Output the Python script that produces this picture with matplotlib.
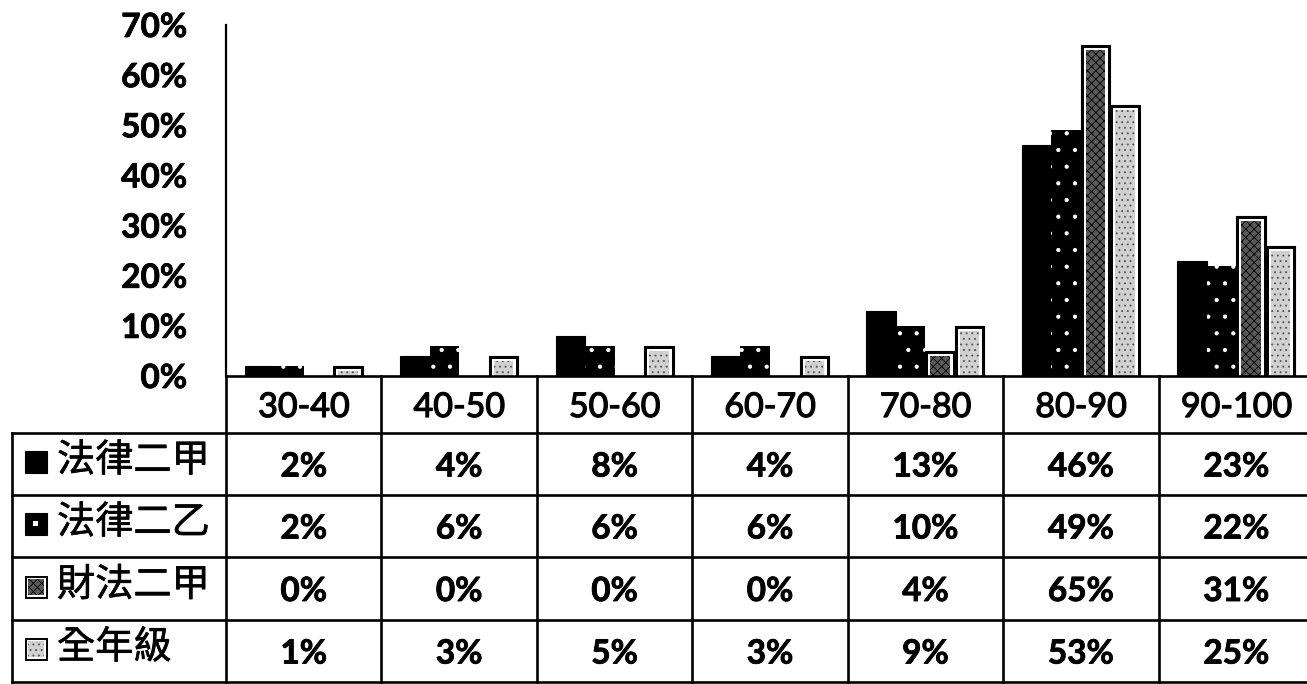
import matplotlib
matplotlib.use("Agg")
import matplotlib.pyplot as plt
import matplotlib.patheffects as pe
from matplotlib.patches import Rectangle
import numpy as np

# Datos del gráfico (porcentajes)
categories = ['30-40', '40-50', '50-60', '60-70', '70-80', '80-90', '90-100']
series_names = ['法律二甲', '法律二乙', '財法二甲', '全年級']
law_2a = [2, 4, 8, 4, 13, 46, 23]
law_2b = [2, 6, 6, 6, 10, 49, 22]
fin_2a = [0, 0, 0, 0, 4, 65, 31]
whole_grade = [1, 3, 5, 3, 9, 53, 25]
y_ticks = [0, 10, 20, 30, 40, 50, 60, 70]

series_values = [law_2a, law_2b, fin_2a, whole_grade]

# Layout in pixels
W, H = 1307, 684
AX_L, AX_R, AX_T, AX_B = 226, 1314, 25, 376
ROW_EDGES = [376, 433, 495, 557, 620, 682]
TABLE_L = 12
LINE_W = 1.9

DIGIT_FONT = 'Lato'
CJK_FONT = ['Noto Sans CJK TC', 'DejaVu Sans']

boxed = [pe.Stroke(linewidth=8, foreground='black'),
         pe.Stroke(linewidth=3.6, foreground='white'),
         pe.Normal()]
key_boxed = [pe.Stroke(linewidth=5, foreground='black'),
             pe.Stroke(linewidth=2.2, foreground='white'),
             pe.Normal()]


def thick(w):
    return [pe.withStroke(linewidth=w, foreground='black')]


styles = [
    dict(facecolor='black', edgecolor='black', linewidth=0.8),
    dict(facecolor='black', edgecolor='white', linewidth=0, hatch='.'),
    dict(facecolor='#5a5a5a', edgecolor='black', linewidth=0, hatch='xxxx'),
    dict(facecolor='#d0d0d0', edgecolor='#505050', linewidth=0, hatch='...'),
]
boxed_series = [False, False, True, True]


def main():
    plt.rcParams['hatch.linewidth'] = 0.6
    fig = plt.figure(figsize=(W / 100, H / 100), dpi=100)

    ax = fig.add_axes([AX_L / W, 1 - AX_B / H, (AX_R - AX_L) / W, (AX_B - AX_T) / H])
    x = np.arange(len(categories))
    slot = 0.19
    offsets = (np.arange(len(series_values)) - 1.5) * slot
    for vals, off, st, bx in zip(series_values, offsets, styles, boxed_series):
        heights = np.where(np.array(vals) > 0, vals, np.nan)
        if bx:
            ax.bar(x + off, heights, width=0.125, zorder=3, path_effects=boxed, **st)
        else:
            ax.bar(x + off, heights, width=slot, zorder=3, **st)

    ax.set_xlim(-0.5, len(categories) - 0.5)
    ax.set_ylim(0, 70)
    ax.set_yticks(y_ticks)
    ax.set_yticklabels([f'{v}%' for v in y_ticks], fontfamily=DIGIT_FONT,
                       fontweight='bold', fontsize=24, path_effects=thick(0.6))
    ax.tick_params(axis='y', length=0, pad=28)
    ax.set_xticks([])
    for side in ['top', 'right', 'bottom']:
        ax.spines[side].set_visible(False)
    ax.spines['left'].set_linewidth(1.6)
    ax.patch.set_visible(False)

    # Data table drawn on an overlay in pixel units
    tab = fig.add_axes([0, 0, 1, 1], zorder=5)
    tab.set_xlim(0, W)
    tab.set_ylim(H, 0)
    tab.axis('off')

    col_w = (AX_R - AX_L) / len(categories)
    col_edges = [AX_L + i * col_w for i in range(len(categories) + 1)]

    # horizontal lines
    tab.plot([AX_L, AX_R], [ROW_EDGES[0]] * 2, color='black', lw=LINE_W)
    for y in ROW_EDGES[1:]:
        tab.plot([TABLE_L, AX_R], [y, y], color='black', lw=LINE_W)
    # vertical lines
    for xe in col_edges:
        tab.plot([xe, xe], [ROW_EDGES[0], ROW_EDGES[-1]], color='black', lw=LINE_W)
    tab.plot([TABLE_L, TABLE_L], [ROW_EDGES[1], ROW_EDGES[-1]], color='black', lw=LINE_W)

    # header
    hy = (ROW_EDGES[0] + ROW_EDGES[1]) / 2
    for i, cat in enumerate(categories):
        cx = (col_edges[i] + col_edges[i + 1]) / 2
        tab.text(cx, hy + 12.5, cat, ha='center', va='baseline', fontsize=24.5,
                 fontfamily=DIGIT_FONT, path_effects=thick(0.9))

    # rows
    for r, (name, vals, st, bx) in enumerate(zip(series_names, series_values,
                                                   styles, boxed_series)):
        ry = (ROW_EDGES[r + 1] + ROW_EDGES[r + 2]) / 2
        if bx:
            tab.add_patch(Rectangle((28, ry - 10), 16, 16, path_effects=key_boxed, **st))
        else:
            tab.add_patch(Rectangle((25, ry - 13), 22, 22, facecolor='black',
                                    edgecolor='black', linewidth=0.8))
            if st.get('hatch'):
                tab.add_patch(Rectangle((33, ry - 5), 5, 5, facecolor='white',
                                        linewidth=0))
        tab.text(57, ry - 3, name, ha='left', va='center', fontsize=27.5,
                 fontfamily=CJK_FONT, path_effects=thick(0.45))
        for i, v in enumerate(vals):
            cx = (col_edges[i] + col_edges[i + 1]) / 2
            tab.text(cx, ry + 12.5, f'{v}%', ha='center', va='baseline',
                     fontsize=24, fontweight='bold', fontfamily=DIGIT_FONT,
                     path_effects=thick(0.6))

    fig.savefig('out.png', dpi=100)


if __name__ == "__main__":
    main()
